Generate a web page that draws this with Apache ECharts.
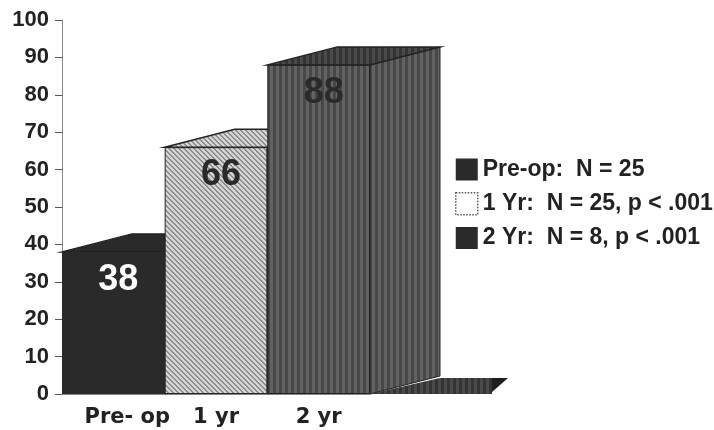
<!DOCTYPE html>
<html>
<head>
<meta charset="utf-8">
<script src="https://cdn.jsdelivr.net/npm/echarts@6/dist/echarts.min.js"></script>
<style>
  html, body { margin: 0; padding: 0; background: #fff; }
  #chart { width: 714px; height: 430px; }
</style>
</head>
<body>
<div id="chart"></div>
<script>
// Scores at each follow-up point
const categories = ['Pre- op', '1 yr', '2 yr'];
const scores = [38, 66, 88];
const seriesNames = ['Pre-op:  N = 25', '1 Yr:  N = 25, p < .001', '2 Yr:  N = 8, p < .001'];
const yMin = 0;
const yMax = 100;
const yStep = 10;

// Pseudo-3D depth of the columns, in pixels
const DEPTH_X = 70;
const DEPTH_Y = 18;

// Tile patterns used as fills
function makeTile(w, h, pick) {
  const c = document.createElement('canvas');
  c.width = w; c.height = h;
  const ctx = c.getContext('2d');
  const img = ctx.createImageData(w, h);
  for (let y = 0; y < h; y++) {
    for (let x = 0; x < w; x++) {
      const v = pick(x, y);
      const k = (y * w + x) * 4;
      img.data[k] = v; img.data[k + 1] = v; img.data[k + 2] = v; img.data[k + 3] = 255;
    }
  }
  ctx.putImageData(img, 0, 0);
  return c;
}
const hatchTile = makeTile(5, 5, (x, y) => (((x - y) % 5 + 5) % 5 < 2 ? 140 : 212));
const stripeTile = makeTile(6, 6, (x) => (x < 3 ? 98 : 72));
const darkStripeTile = makeTile(6, 6, (x) => (x < 3 ? 74 : 52));

const frontFill = [
  '#2a2a2a',
  { image: hatchTile, repeat: 'repeat' },
  { image: stripeTile, repeat: 'repeat' }
];
const topFill = [
  '#2a2a2a',
  { image: hatchTile, repeat: 'repeat' },
  { image: darkStripeTile, repeat: 'repeat' }
];
const labelColors = ['#ffffff', '#2a2a2a', '#2a2a2a'];

const chart = echarts.init(document.getElementById('chart'), null, { renderer: 'canvas' });

const barSeries = scores.map((v, k) => ({
  name: seriesNames[k],
  type: 'bar',
  z: 3,
  barGap: '-100%',
  barCategoryGap: '0%',
  data: categories.map((c, i) => (i === k ? v : '-')),
  itemStyle: { color: frontFill[k], borderColor: '#222', borderWidth: k === 0 ? 0 : 1 },
  label: {
    show: true,
    position: 'insideTop',
    distance: 10,
    offset: [5, 0],
    color: labelColors[k],
    fontFamily: 'Liberation Sans, Arial, sans-serif',
    fontWeight: 'bold',
    fontSize: 36
  }
}));

// Top and side faces of each column, plus the floor edge behind the last one
const depthSeries = {
  type: 'custom',
  z: 1,
  silent: true,
  data: scores.map((v, i) => [i, v]),
  renderItem: function (params, api) {
    const i = api.value(0);
    const top = api.coord([i, api.value(1)]);
    const base = api.coord([i, 0]);
    const w = api.size([1, 0])[0];
    const x0 = top[0] - w / 2;
    const x1 = top[0] + w / 2;
    const yt = top[1];
    const yb = base[1];
    const children = [
      {
        type: 'polygon',
        shape: { points: [[x1, yt], [x1 + DEPTH_X, yt - DEPTH_Y], [x1 + DEPTH_X, yb - DEPTH_Y], [x1, yb]] },
        style: { fill: frontFill[i], stroke: '#222', lineWidth: 1 }
      },
      {
        type: 'polygon',
        shape: { points: [[x0, yt], [x0 + DEPTH_X, yt - DEPTH_Y], [x1 + DEPTH_X, yt - DEPTH_Y], [x1, yt]] },
        style: { fill: topFill[i], stroke: '#222', lineWidth: 1.5 }
      }
    ];
    if (i === scores.length - 1) {
      const fx = x1 + DEPTH_X;
      children.unshift(
        {
          type: 'polygon',
          shape: { points: [[x1, yb], [fx, yb - DEPTH_Y + 2], [fx + 52, yb - DEPTH_Y + 2], [fx + 52, yb], [x1, yb]] },
          style: { fill: { image: darkStripeTile, repeat: 'repeat' } }
        },
        {
          type: 'polygon',
          shape: { points: [[fx + 52, yb - DEPTH_Y + 2], [fx + 68, yb - DEPTH_Y + 2], [fx + 52, yb - 2]] },
          style: { fill: '#1e1e1e' }
        }
      );
    }
    return { type: 'group', children: children };
  }
};

chart.setOption({
  animation: false,
  backgroundColor: '#ffffff',
  grid: { left: 62, right: 344, top: 20, bottom: 36 },
  legend: {
    orient: 'vertical',
    left: 450,
    top: 153,
    itemWidth: 22,
    itemHeight: 22,
    itemGap: 11,
    icon: 'rect',
    textStyle: {
      fontFamily: 'Liberation Sans, Arial, sans-serif',
      fontWeight: 'bold',
      fontSize: 23,
      color: '#222'
    },
    data: [
      { name: seriesNames[0], itemStyle: { color: '#2a2a2a', borderWidth: 0 } },
      { name: seriesNames[1], itemStyle: { color: '#ffffff', borderColor: '#555', borderWidth: 1.5, borderType: 'dotted' } },
      { name: seriesNames[2], itemStyle: { color: '#2a2a2a', borderWidth: 0 } }
    ]
  },
  xAxis: {
    type: 'category',
    data: categories.map((c, i) => (i === 0 ? { value: c, textStyle: { padding: [0, 0, 0, 28] } } : c)),
    axisLine: { lineStyle: { color: '#888', width: 1 } },
    axisTick: { show: false },
    axisLabel: {
      interval: 0,
      margin: 13,
      color: '#222',
      fontFamily: 'DejaVu Sans, sans-serif',
      fontWeight: 'bold',
      fontSize: 21
    }
  },
  yAxis: {
    type: 'value',
    min: yMin,
    max: yMax,
    interval: yStep,
    splitLine: { show: false },
    axisLine: { show: true, lineStyle: { color: '#888', width: 1 } },
    axisTick: { show: true, length: 7, lineStyle: { color: '#555' } },
    axisLabel: {
      margin: 13,
      color: '#222',
      fontFamily: 'Liberation Sans, Arial, sans-serif',
      fontWeight: 'bold',
      fontSize: 22
    }
  },
  series: [depthSeries].concat(barSeries)
});
</script>
</body>
</html>
